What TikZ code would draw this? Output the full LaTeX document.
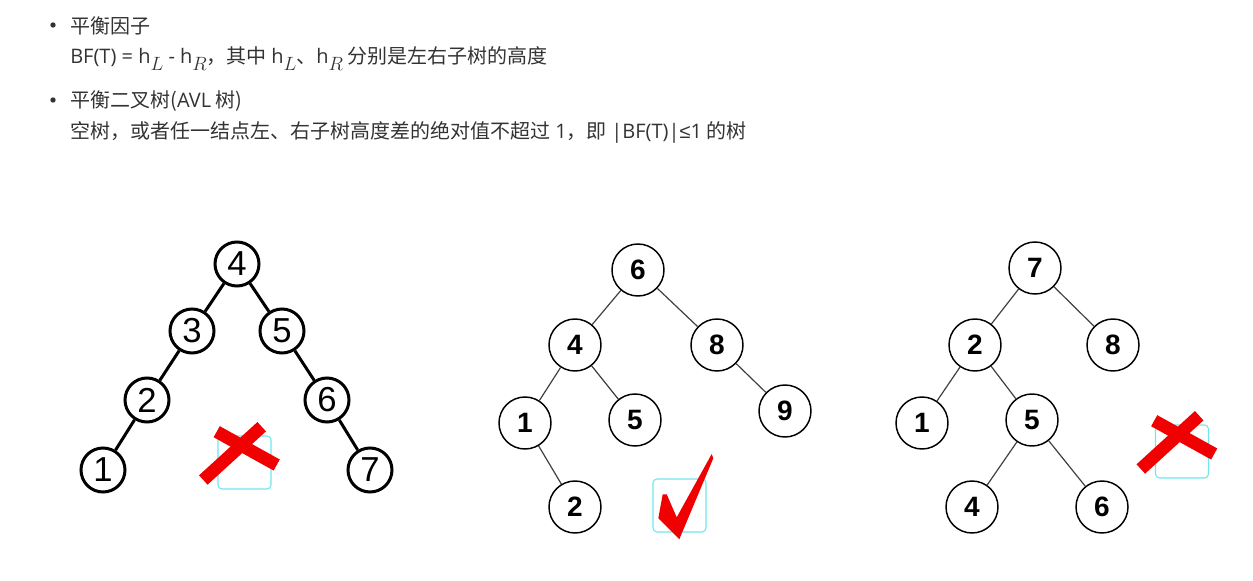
\documentclass[tikz,border=0pt]{standalone}
\usepackage{fontspec}
\setmainfont{Noto Sans CJK SC}
\newfontfamily\digitfont{Liberation Sans}
\newfontfamily\engfont{Open Sans}
\usetikzlibrary{calc}
\definecolor{textgray}{RGB}{51,51,51}
\definecolor{markred}{RGB}{240,0,0}
\definecolor{boxcyan}{RGB}{110,230,240}
\newcommand\eng[1]{{\engfont #1}}
\newcommand\hsub[1]{\raisebox{-0.35em}{\fontsize{14}{14}\selectfont$#1$}}

\begin{document}
\begin{tikzpicture}[x=0.75pt,y=-0.75pt,
	txt/.style={anchor=base west,inner sep=0pt,text=textgray,font=\fontsize{15}{18}\selectfont},
	bigring/.style={draw,circle,line width=2.25pt,minimum size=33pt,inner sep=0pt,font=\digitfont\fontsize{26}{26}\selectfont},
	ring/.style={draw,circle,line width=1.1pt,minimum size=39pt,inner sep=0pt,font=\digitfont\bfseries\fontsize{21}{21}\selectfont},
	thickedge/.style={line width=2.25pt},
	thinedge/.style={line width=0.9pt,draw=black!75},
	markbox/.style={draw=boxcyan,line width=0.8pt,rounded corners=3pt},
	crossbar/.style={draw=markred,line width=9.5pt},
]
	\useasboundingbox (0,0) rectangle (1253,581);

	% text
	\fill[textgray] (53,25) circle (2pt);
	\node[txt] (t1) at (70,33.5) {平衡因子};
	\node[txt] (t2) at (70,64) {\eng{BF(T) = h}\hsub{L}\eng{ - h}\hsub{R}，其中 \eng{h}\hsub{L}、\eng{h}\hsub{R} 分别是左右子树的高度};
	\fill[textgray] (53,100) circle (2pt);
	\node[txt] (t3) at (70,108) {平衡二叉树(\eng{AVL} 树)};
	\node[txt] (t4) at (70,139) {空树，或者任一结点左、右子树高度差的绝对值不超过\eng{ 1}，即 \eng{|BF(T)|}{\digitfont ≤}\eng{1} 的树};

	% tree a
	\foreach \n/\x/\y in {4/237/264, 3/192/331, 5/282/331, 2/147/400, 6/327/400, 1/103/470, 7/370/470}
		\node[bigring] (a\n) at (\x,\y) {\n};
	\foreach \p/\c in {4/3, 4/5, 3/2, 2/1, 5/6, 6/7}
		\draw[thickedge] (a\p) -- (a\c);

	% tree b
	\foreach \n/\x/\y in {6/638/270, 4/575/345, 8/717/345, 1/525/423, 5/635/420, 9/785/411, 2/575/507}
		\node[ring] (b\n) at (\x,\y) {\n};
	\foreach \p/\c in {6/4, 6/8, 4/1, 4/5, 1/2, 8/9}
		\draw[thinedge] (b\p) -- (b\c);

	% tree c
	\foreach \n/\x/\y in {7/1035/268, 2/975/345, 8/1113/345, 1/922/423, 5/1032/420, 4/972/507, 6/1102/507}
		\node[ring] (c\n) at (\x,\y) {\n};
	\foreach \p/\c in {7/2, 7/8, 2/1, 2/5, 5/4, 5/6}
		\draw[thinedge] (c\p) -- (c\c);

	% marks
	\foreach \dx/\dy in {0/0, 937.5/-11}{
		\begin{scope}[shift={(\dx,\dy)}]
			\draw[markbox] (218,436) rectangle (271,489);
			\draw[crossbar] (216.7,431.7) -- (276.7,465);
			\draw[crossbar] (203.3,480) -- (261.7,426.7);
		\end{scope}
	}
	\draw[markbox] (653,479) rectangle (706,532);
	\fill[markred] (658.3,518.3) -- (662.7,494.3) -- (666.7,494.3) -- (676.7,517.3) -- (711.7,454) -- (713.3,458.3) -- (679.3,539.3) -- cycle;
\end{tikzpicture}
\end{document}
